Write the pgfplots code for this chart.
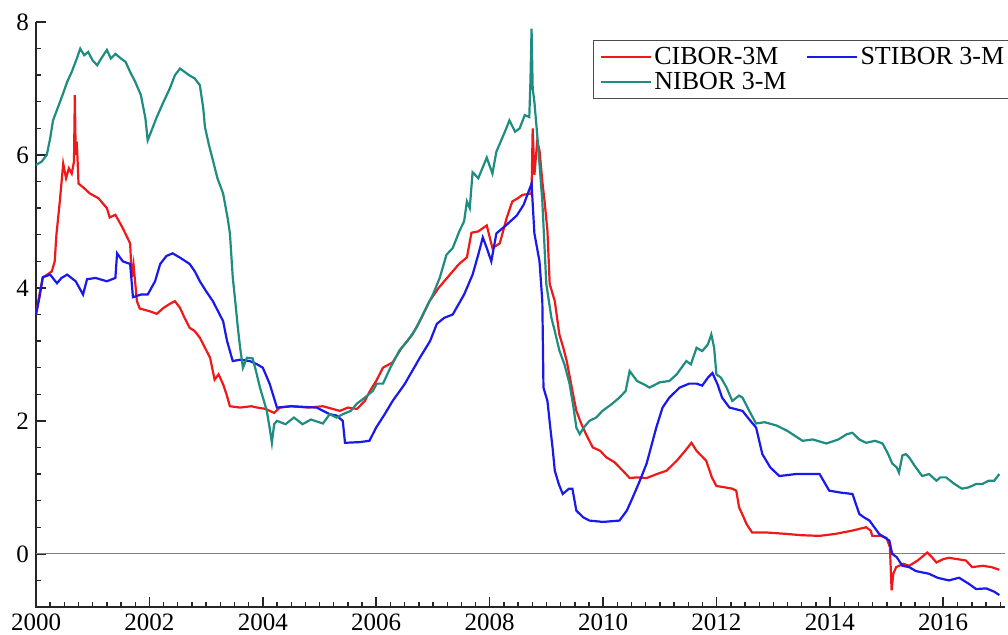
\documentclass[border=0pt]{standalone}
\usepackage{fontspec}
\setmainfont{Liberation Serif}
\usepackage{pgfplots}
\pgfplotsset{compat=1.18}
\definecolor{cred}{RGB}{240,25,25}
\definecolor{cblue}{RGB}{25,25,235}
\definecolor{cteal}{RGB}{30,140,128}
\begin{document}
\begin{tikzpicture}
\begin{axis}[
  at={(0,0)}, anchor=south west,
  scale only axis, width=484.5pt, height=292.5pt,
  xmin=2000, xmax=2017.09, ymin=-0.8, ymax=8,
  axis line style={draw=none},
  xtick pos=lower, ytick pos=left,
  tick align=inside,
  major tick length=5pt, minor tick length=2.5pt,
  tick style={draw=black!85, line width=0.7pt},
  xtick={2000,2002,...,2016},
  xticklabels={2000,2002,2004,2006,2008,2010,2012,2014,2016},
  minor xtick={2000.25,2000.5,...,2017},
  ytick={0,2,4,6,8},
  yticklabels={0,2,4,6,8},
  minor ytick={-0.8,-0.4,...,8},
  ticklabel style={font=\fontsize{12.5}{12.5}\selectfont},
  clip=false,
  legend columns=2,
  legend image code/.code={\draw[#1] (0pt,0pt) -- (25pt,0pt);},
  legend style={at={(rel axis cs:0.575,0.969)}, anchor=north west,
    draw=black!70, line width=0.6pt, font=\fontsize{13}{13}\selectfont,
    inner xsep=3pt, inner ysep=2pt,
    nodes={inner sep=1.2pt},
    /tikz/every even column/.append style={column sep=8.5pt}},
  legend cell align=left,
]
\draw[black!85, line width=0.7pt] (rel axis cs:0,1) -- (rel axis cs:0,0) -- (rel axis cs:1,0);
\addplot[gray, line width=0.4pt, forget plot] coordinates {(2000,0) (2017.09,0)};
\addplot[cred, line width=1.1pt] coordinates {
(2000.00,3.60) (2000.06,3.90) (2000.12,4.16) (2000.20,4.20) (2000.28,4.25) (2000.33,4.40) (2000.36,4.80) (2000.42,5.30) (2000.48,5.87) (2000.53,5.65) (2000.58,5.80) (2000.63,5.72) (2000.67,5.90) (2000.685,6.90) (2000.70,6.00) (2000.72,6.20) (2000.75,5.57) (2000.85,5.50) (2000.95,5.42) (2001.10,5.35) (2001.25,5.20) (2001.30,5.06) (2001.40,5.10) (2001.53,4.90) (2001.66,4.67) (2001.69,4.16) (2001.72,4.35) (2001.78,3.80) (2001.83,3.69) (2002.00,3.65) (2002.13,3.61) (2002.25,3.70) (2002.36,3.76) (2002.45,3.80) (2002.54,3.70) (2002.62,3.55) (2002.71,3.40) (2002.80,3.35) (2002.89,3.25) (2002.98,3.10) (2003.07,2.95) (2003.15,2.62) (2003.22,2.70) (2003.30,2.55) (2003.36,2.40) (2003.42,2.22) (2003.60,2.20) (2003.80,2.22) (2003.90,2.20) (2004.05,2.18) (2004.20,2.12) (2004.30,2.20) (2004.50,2.22) (2004.80,2.20) (2005.06,2.22) (2005.36,2.15) (2005.50,2.20) (2005.66,2.18) (2005.80,2.30) (2005.89,2.45) (2006.00,2.60) (2006.12,2.80) (2006.29,2.88) (2006.45,3.10) (2006.64,3.30) (2006.80,3.55) (2006.94,3.80) (2007.10,4.00) (2007.30,4.20) (2007.45,4.35) (2007.60,4.46) (2007.68,4.83) (2007.80,4.85) (2007.95,4.94) (2008.05,4.60) (2008.18,4.67) (2008.30,5.05) (2008.40,5.30) (2008.50,5.35) (2008.58,5.40) (2008.74,5.42) (2008.76,6.40) (2008.79,5.70) (2008.84,6.20) (2008.88,6.07) (2008.93,5.60) (2008.97,5.30) (2009.02,4.86) (2009.06,4.06) (2009.15,3.80) (2009.23,3.30) (2009.30,3.10) (2009.36,2.90) (2009.45,2.50) (2009.53,2.15) (2009.62,1.95) (2009.70,1.80) (2009.82,1.60) (2009.95,1.55) (2010.06,1.45) (2010.20,1.38) (2010.35,1.25) (2010.47,1.14) (2010.60,1.15) (2010.77,1.14) (2010.95,1.20) (2011.12,1.25) (2011.30,1.40) (2011.45,1.55) (2011.56,1.67) (2011.65,1.55) (2011.82,1.40) (2011.92,1.15) (2012.00,1.02) (2012.15,1.00) (2012.28,0.98) (2012.35,0.95) (2012.40,0.70) (2012.48,0.55) (2012.53,0.45) (2012.63,0.32) (2012.90,0.32) (2013.23,0.30) (2013.50,0.28) (2013.82,0.27) (2014.10,0.30) (2014.40,0.35) (2014.64,0.40) (2014.72,0.35) (2014.75,0.27) (2014.90,0.27) (2015.00,0.24) (2015.06,0.10) (2015.09,-0.55) (2015.12,-0.30) (2015.17,-0.20) (2015.30,-0.15) (2015.40,-0.18) (2015.55,-0.10) (2015.72,0.02) (2015.80,-0.05) (2015.88,-0.13) (2016.00,-0.08) (2016.10,-0.06) (2016.25,-0.08) (2016.40,-0.10) (2016.51,-0.20) (2016.70,-0.18) (2016.85,-0.20) (2016.99,-0.24)
};
\addlegendentry{CIBOR-3M}
\addplot[cblue, line width=1.1pt] coordinates {
(2000.00,3.60) (2000.06,3.85) (2000.12,4.16) (2000.25,4.20) (2000.37,4.07) (2000.45,4.15) (2000.55,4.20) (2000.70,4.10) (2000.83,3.90) (2000.90,4.13) (2001.05,4.15) (2001.25,4.10) (2001.40,4.15) (2001.43,4.52) (2001.53,4.40) (2001.66,4.36) (2001.71,3.86) (2001.85,3.90) (2001.97,3.90) (2002.10,4.10) (2002.19,4.36) (2002.30,4.48) (2002.41,4.52) (2002.55,4.45) (2002.71,4.36) (2002.80,4.25) (2002.89,4.10) (2003.00,3.95) (2003.12,3.80) (2003.24,3.60) (2003.30,3.50) (2003.37,3.20) (2003.47,2.90) (2003.60,2.92) (2003.77,2.90) (2003.90,2.85) (2004.00,2.80) (2004.12,2.56) (2004.25,2.20) (2004.50,2.22) (2004.95,2.20) (2005.18,2.10) (2005.30,2.08) (2005.41,2.00) (2005.45,1.67) (2005.70,1.68) (2005.88,1.70) (2006.00,1.90) (2006.15,2.10) (2006.29,2.30) (2006.50,2.55) (2006.77,2.95) (2006.95,3.20) (2007.07,3.46) (2007.20,3.55) (2007.35,3.60) (2007.55,3.90) (2007.70,4.20) (2007.80,4.50) (2007.88,4.76) (2007.95,4.60) (2008.03,4.40) (2008.12,4.82) (2008.30,4.95) (2008.48,5.09) (2008.60,5.25) (2008.74,5.57) (2008.79,4.82) (2008.88,4.40) (2008.93,3.80) (2008.95,2.50) (2009.02,2.30) (2009.07,1.90) (2009.11,1.60) (2009.15,1.25) (2009.22,1.05) (2009.29,0.90) (2009.40,0.98) (2009.46,0.98) (2009.53,0.65) (2009.65,0.55) (2009.76,0.50) (2010.00,0.48) (2010.29,0.50) (2010.42,0.65) (2010.52,0.84) (2010.65,1.10) (2010.77,1.36) (2010.94,1.90) (2011.05,2.20) (2011.17,2.35) (2011.35,2.50) (2011.52,2.56) (2011.65,2.56) (2011.75,2.53) (2011.85,2.65) (2011.93,2.72) (2012.02,2.55) (2012.10,2.35) (2012.23,2.20) (2012.46,2.15) (2012.60,2.00) (2012.70,1.90) (2012.81,1.50) (2012.95,1.30) (2013.11,1.17) (2013.40,1.20) (2013.82,1.20) (2013.99,0.95) (2014.20,0.92) (2014.40,0.90) (2014.52,0.60) (2014.60,0.55) (2014.70,0.50) (2014.87,0.30) (2015.05,0.20) (2015.10,0.00) (2015.18,-0.05) (2015.28,-0.18) (2015.40,-0.20) (2015.52,-0.26) (2015.75,-0.30) (2015.90,-0.36) (2016.10,-0.40) (2016.28,-0.36) (2016.45,-0.45) (2016.58,-0.53) (2016.76,-0.52) (2016.90,-0.57) (2016.99,-0.62)
};
\addlegendentry{STIBOR 3-M}
\addplot[cteal, line width=1.1pt] coordinates {
(2000.00,5.85) (2000.10,5.90) (2000.19,6.00) (2000.25,6.25) (2000.30,6.52) (2000.38,6.70) (2000.48,6.93) (2000.55,7.10) (2000.63,7.25) (2000.72,7.45) (2000.78,7.60) (2000.85,7.50) (2000.92,7.55) (2001.00,7.42) (2001.08,7.35) (2001.15,7.45) (2001.25,7.58) (2001.32,7.45) (2001.40,7.52) (2001.50,7.45) (2001.58,7.40) (2001.66,7.25) (2001.75,7.10) (2001.85,6.90) (2001.93,6.55) (2001.97,6.22) (2002.03,6.35) (2002.13,6.57) (2002.25,6.80) (2002.36,7.00) (2002.45,7.20) (2002.54,7.30) (2002.62,7.25) (2002.70,7.20) (2002.80,7.15) (2002.89,7.05) (2002.95,6.70) (2002.98,6.42) (2003.05,6.15) (2003.12,5.92) (2003.20,5.65) (2003.30,5.42) (2003.38,5.05) (2003.42,4.82) (2003.47,4.16) (2003.52,3.75) (2003.56,3.40) (2003.60,3.10) (2003.65,2.80) (2003.72,2.95) (2003.82,2.94) (2003.88,2.75) (2003.95,2.50) (2004.02,2.30) (2004.07,2.15) (2004.12,1.90) (2004.16,1.67) (2004.20,1.95) (2004.25,2.00) (2004.40,1.95) (2004.55,2.05) (2004.70,1.95) (2004.85,2.02) (2005.06,1.96) (2005.18,2.10) (2005.30,2.05) (2005.41,2.10) (2005.55,2.15) (2005.66,2.26) (2005.80,2.35) (2005.94,2.45) (2006.01,2.56) (2006.12,2.56) (2006.25,2.80) (2006.41,3.06) (2006.55,3.20) (2006.71,3.40) (2006.85,3.65) (2007.00,3.90) (2007.12,4.15) (2007.24,4.50) (2007.35,4.60) (2007.47,4.86) (2007.55,5.00) (2007.60,5.30) (2007.65,5.20) (2007.70,5.74) (2007.80,5.65) (2007.95,5.96) (2008.05,5.72) (2008.12,6.05) (2008.18,6.17) (2008.27,6.35) (2008.35,6.52) (2008.45,6.35) (2008.53,6.40) (2008.62,6.60) (2008.70,6.57) (2008.72,7.10) (2008.74,7.90) (2008.76,7.00) (2008.79,6.80) (2008.85,6.20) (2008.93,5.30) (2009.00,4.06) (2009.09,3.55) (2009.15,3.35) (2009.23,3.06) (2009.32,2.85) (2009.41,2.56) (2009.48,2.20) (2009.53,1.90) (2009.59,1.80) (2009.66,1.90) (2009.76,2.00) (2009.88,2.05) (2009.99,2.15) (2010.15,2.25) (2010.29,2.35) (2010.40,2.45) (2010.47,2.75) (2010.60,2.60) (2010.72,2.55) (2010.82,2.50) (2011.00,2.58) (2011.17,2.60) (2011.30,2.70) (2011.47,2.90) (2011.55,2.85) (2011.65,3.10) (2011.75,3.05) (2011.85,3.15) (2011.91,3.30) (2011.96,3.10) (2012.00,2.70) (2012.08,2.65) (2012.18,2.50) (2012.28,2.30) (2012.40,2.38) (2012.46,2.35) (2012.58,2.15) (2012.70,1.96) (2012.85,1.98) (2013.06,1.93) (2013.25,1.85) (2013.52,1.70) (2013.70,1.72) (2013.94,1.66) (2014.15,1.72) (2014.30,1.80) (2014.40,1.82) (2014.52,1.72) (2014.64,1.67) (2014.80,1.70) (2014.93,1.66) (2015.03,1.50) (2015.10,1.36) (2015.18,1.30) (2015.22,1.22) (2015.28,1.48) (2015.34,1.50) (2015.40,1.45) (2015.50,1.32) (2015.63,1.17) (2015.75,1.20) (2015.88,1.10) (2015.95,1.15) (2016.05,1.15) (2016.20,1.05) (2016.33,0.98) (2016.45,1.00) (2016.58,1.05) (2016.69,1.05) (2016.80,1.10) (2016.90,1.10) (2016.99,1.20)
};
\addlegendentry{NIBOR 3-M}
\end{axis}
\pgfresetboundingbox
\path[use as bounding box] (-18pt,-13.5pt) rectangle (486pt,303.5pt);
\end{tikzpicture}
\end{document}
